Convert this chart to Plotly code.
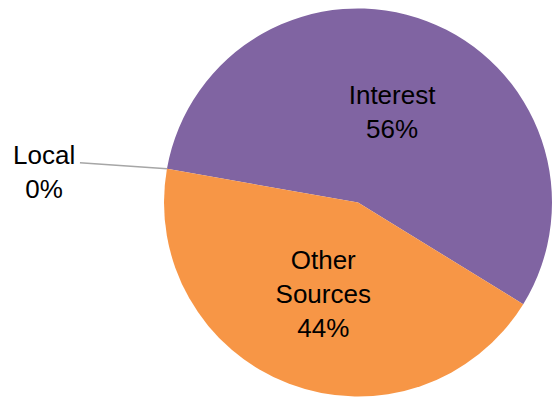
import math
import plotly.graph_objects as go

# Revenue shares by source
labels = ["Local", "Interest", "Other Sources"]
values = [0, 56, 44]
colors = ["#A5A5A5", "#8064A2", "#F79646"]
start_angle = -80  # first slice starts here, degrees clockwise from 12 o'clock

W, H = 552, 397
FONT = "Liberation Sans, Arial, sans-serif"
FS = 26

# pie placement (pixels)
pie_left, pie_top, diameter = 164, 8, 389
dom_x = [pie_left / W, min(1.0, (pie_left + diameter) / W)]
dom_y = [max(0.0, 1 - (pie_top + diameter) / H), 1 - pie_top / H]

total = sum(values)
pcts = [round(100 * v / total) for v in values]
slice_text = [lab.replace(" ", "<br>") for lab in labels]
templates = ["" if v == 0 else "%{text}<br>%{percent:.0%}" for v in values]

fig = go.Figure(
    go.Pie(
        labels=labels,
        values=values,
        text=slice_text,
        texttemplate=templates,
        textinfo="text+percent",
        textposition="inside",
        insidetextorientation="horizontal",
        sort=False,
        direction="clockwise",
        rotation=start_angle,
        marker=dict(colors=colors, line=dict(width=0)),
        textfont=dict(family=FONT, size=FS, color="black"),
        domain=dict(x=dom_x, y=dom_y),
        hoverinfo="label+percent",
    )
)

# leader line and outside label for the zero-valued slice
cx = pie_left + diameter / 2
cy = pie_top + diameter / 2
R = diameter / 2


def px_to_paper(x, y):
    return x / W, 1 - y / H


shapes, annotations = [], []
cum = 0.0
for lab, v, p in zip(labels, values, pcts):
    if v == 0:
        ang = math.radians(start_angle + 360 * cum / total)
        tx, ty = cx + R * math.sin(ang), cy - R * math.cos(ang)
        ex, ey = tx - 87, ty - 6
        x0, y0 = px_to_paper(tx, ty)
        x1, y1 = px_to_paper(ex, ey)
        shapes.append(dict(type="line", xref="paper", yref="paper",
                           x0=x0, y0=y0, x1=x1, y1=y1,
                           line=dict(color="#A6A6A6", width=1.5)))
        lx, ly = px_to_paper(ex - 36, ey + 9)
        annotations.append(dict(xref="paper", yref="paper", x=lx, y=ly,
                                text=f"{lab}<br>{p}%", showarrow=False,
                                xanchor="center", yanchor="middle", align="center",
                                font=dict(family=FONT, size=FS, color="black")))
    cum += v

fig.update_layout(
    width=W,
    height=H,
    margin=dict(l=0, r=0, t=0, b=0),
    showlegend=False,
    paper_bgcolor="white",
    plot_bgcolor="white",
    shapes=shapes,
    annotations=annotations,
)

fig.write_html("out.html")
